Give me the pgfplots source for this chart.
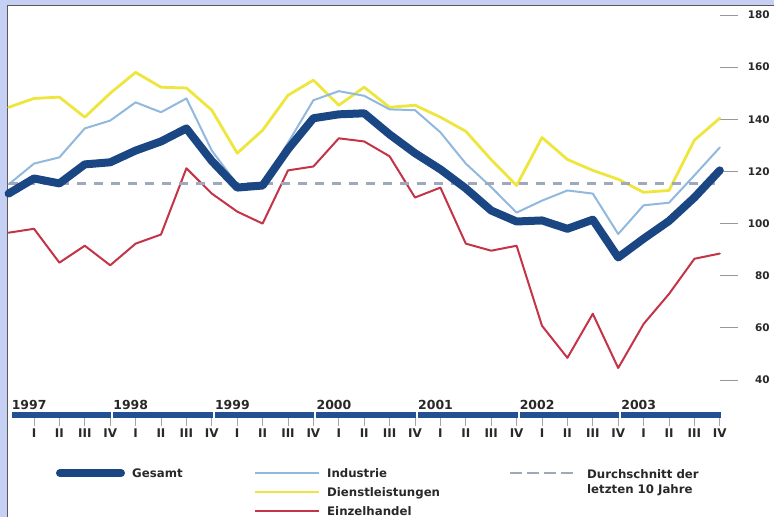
\documentclass[border=0pt]{standalone}
\usepackage{pgfplots}
\pgfplotsset{compat=1.18}
\usepackage{fontspec}
\setmainfont{DejaVu Sans}

\definecolor{framebg}{RGB}{198,208,245}
\definecolor{gesamt}{RGB}{27,70,132}
\definecolor{industrie}{RGB}{145,185,222}
\definecolor{dienst}{RGB}{238,230,60}
\definecolor{einzel}{RGB}{196,52,72}
\definecolor{avg}{RGB}{158,170,188}
\definecolor{timebar}{RGB}{35,80,145}
\definecolor{txt}{RGB}{40,40,40}

\newcommand\lgfont{\fontsize{11.8}{14}\selectfont\bfseries}
\newcommand\yrfont{\fontsize{12.5}{14}\selectfont\bfseries}
\newcommand\qfont{\fontsize{12}{14}\selectfont\bfseries}

\begin{document}
\begin{tikzpicture}
\useasboundingbox (0,0) rectangle (774bp,-517bp);
% frame and white panel
\begin{scope}[x=1bp,y=-1bp]
  \fill[framebg] (0,0) rectangle (774,517);
  \fill[white] (7.5,5.5) rectangle (780,525);
  \draw[black!65, line width=1.2bp] (7.5,525) -- (7.5,5.5) -- (780,5.5);
\end{scope}

\begin{axis}[
  at={(8.6bp,-380bp)}, anchor=south west,
  scale only axis, width=711.2bp, height=365bp,
  xmin=0, xmax=28, ymin=40, ymax=180,
  clip=false,
  axis x line=none,
  axis y line*=right,
  y axis line style={draw=none},
  ytick={40,60,...,180},
  tick align=outside,
  major tick length=18bp,
  tick style={black!40, line width=0.9bp},
  yticklabel style={font=\fontsize{10.5}{12}\selectfont\bfseries, text=txt,
    anchor=east, inner sep=0pt, xshift=32bp},
  /pgf/number format/assume math mode=true,
  every axis plot/.append style={line join=round, line cap=round},
]
% Dienstleistungen
\addplot[dienst, line width=2.8bp] coordinates {
 (0,144.6) (1,148) (2,148.5) (3,140.8) (4,150) (5,158) (6,152.3) (7,152)
 (8,143.5) (9,127) (10,135.8) (11,149.2) (12,155) (13,145.4) (14,152.3)
 (15,144.6) (16,145.4) (17,140.8) (18,135.4) (19,124.5) (20,114.6) (21,133)
 (22,124.6) (23,120.4) (24,117) (25,112) (26,112.7) (27,132) (28,140.4)};
% Industrie
\addplot[industrie, line width=2bp] coordinates {
 (0,115) (1,123) (2,125.4) (3,136.5) (4,139.5) (5,146.5) (6,142.7) (7,148)
 (8,128) (9,115) (10,115) (11,131) (12,147.3) (13,150.8) (14,149)
 (15,143.8) (16,143.5) (17,135) (18,123) (19,114) (20,104.2) (21,108.8)
 (22,112.7) (23,111.5) (24,96) (25,107) (26,108) (27,118.5) (28,129.2)};
% Einzelhandel
\addplot[einzel, line width=2bp] coordinates {
 (0,96.5) (1,98) (2,85) (3,91.5) (4,84) (5,92.3) (6,95.8) (7,121.2)
 (8,111.5) (9,104.6) (10,100) (11,120.4) (12,121.9) (13,132.7) (14,131.5)
 (15,125.8) (16,110) (17,113.8) (18,92.3) (19,89.6) (20,91.5) (21,60.8)
 (22,48.5) (23,65.4) (24,44.6) (25,61.5) (26,73) (27,86.5) (28,88.5)};
% Durchschnitt der letzten 10 Jahre
\addplot[avg, line width=3bp, line cap=butt, dash pattern=on 9bp off 8bp]
 coordinates {(0,115.5) (28,115.5)};
% Gesamt
\addplot[gesamt, line width=8bp] coordinates {
 (0,111.5) (1,117.3) (2,115.4) (3,122.7) (4,123.5) (5,128) (6,131.5) (7,136.5)
 (8,124) (9,113.8) (10,114.6) (11,128.5) (12,140.4) (13,141.9) (14,142.3)
 (15,134.2) (16,127) (17,120.8) (18,113.5) (19,105) (20,100.8) (21,101.2)
 (22,98) (23,101.5) (24,87) (25,94.2) (26,101) (27,110) (28,120.4)};
\end{axis}

\begin{scope}[x=1bp,y=-1bp]
  % time line: years
  \foreach \k/\yr in {0/1997,1/1998,2/1999,3/2000,4/2001,5/2002,6/2003} {
    \pgfmathsetmacro\xs{8.6+101.6*\k+3}
    \pgfmathsetmacro\xe{8.6+101.6*(\k+1)+1}
    \fill[timebar] (\xs,411.5) rectangle (\xe,417.5);
    \node[anchor=base west, inner sep=0pt, text=txt, font=\yrfont] at (\xs,409) {\yr};
  }
  % quarters
  \foreach \i in {1,...,28} {
    \pgfmathsetmacro\xq{8.6+25.4*\i}
    \pgfmathtruncatemacro\r{mod(\i-1,4)}
    \draw[black!35, line width=1bp] (\xq,418) -- (\xq,426);
    \node[anchor=base, inner sep=0pt, text=txt, font=\qfont] at (\xq,437)
      {\ifcase\r I\or II\or III\or IV\fi};
  }
  % legend
  \draw[gesamt, line width=8bp, line cap=round] (60,473) -- (121,473);
  \node[anchor=base west, inner sep=0pt, text=txt, font=\lgfont] at (132,477.5) {Gesamt};
  \draw[industrie, line width=2bp] (255,473) -- (319,473);
  \node[anchor=base west, inner sep=0pt, text=txt, font=\lgfont] at (327,477.5) {Industrie};
  \draw[dienst, line width=2.8bp] (255,492) -- (319,492);
  \node[anchor=base west, inner sep=0pt, text=txt, font=\lgfont] at (327,496.5) {Dienstleistungen};
  \draw[einzel, line width=2bp] (255,511) -- (319,511);
  \node[anchor=base west, inner sep=0pt, text=txt, font=\lgfont] at (327,515.5) {Einzelhandel};
  \draw[avg, line width=2.5bp, dash pattern=on 12bp off 5bp] (510,473) -- (577,473);
  \node[anchor=base west, inner sep=0pt, text=txt, font=\lgfont] at (587,478) {Durchschnitt der};
  \node[anchor=base west, inner sep=0pt, text=txt, font=\lgfont] at (587,493) {letzten 10 Jahre};
\end{scope}
\end{tikzpicture}
\end{document}
